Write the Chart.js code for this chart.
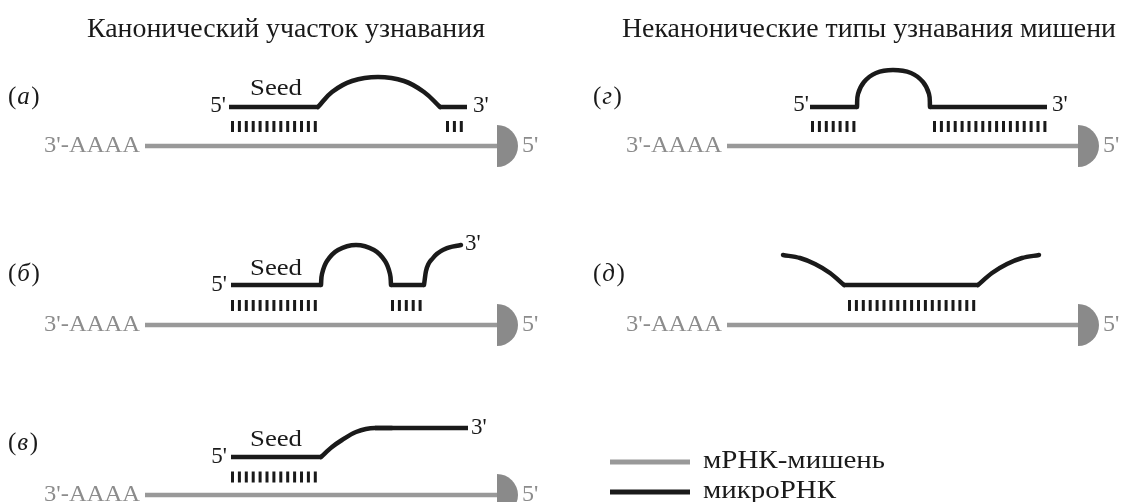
<!DOCTYPE html>
<html>
<head>
<meta charset="utf-8">
<script src="https://cdn.jsdelivr.net/npm/chart.js@4.4.0/dist/chart.umd.min.js"></script>
<style>
html, body { margin: 0; padding: 0; background: #fff; }
#wrap { width: 1121px; height: 502px; position: relative; }
</style>
</head>
<body>
<div id="wrap"><canvas id="diagram"></canvas></div>
<script>
// target mRNA (grey) lines, one per panel: [x, y] start and end
var targetA = [[145, 146], [497, 146]];
var targetB = [[145, 325], [497, 325]];
var targetV = [[145, 495], [497, 495]];
var targetG = [[727, 146], [1078, 146]];
var targetD = [[727, 325], [1078, 325]];

// microRNA (black) strands: straight pieces, loops (arcs) and bends
var straightA = [[[229, 107], [318, 107]], [[440, 107], [467, 107]]];
var arcsA = [[[318, 107], [332, 92], [352, 81], [378, 77], [404, 81], [424, 92], [440, 107]]];
var bendsA = [];

var straightB = [[[231, 285], [321, 285]], [[391, 285], [424, 285]]];
var arcsB = [[[321, 285], [322, 274], [327, 261], [338, 250], [356, 245], [374, 250], [385, 261], [390, 274], [391, 285]]];
var bendsB = [[[424, 285], [426, 271], [433, 258], [445, 249], [461, 245]]];

var straightV = [[[231, 457], [321, 457]], [[375, 428], [468, 428]]];
var arcsV = [];
var bendsV = [[[321, 457], [332, 447], [342, 440], [356, 432], [375, 428], [392, 428]]];

var straightG = [[[810, 107], [857, 107]], [[930, 107], [1047, 107]]];
var arcsG = [[[857, 107], [858, 94], [864, 82], [876, 73], [893, 70], [911, 73], [923, 82], [929, 94], [930, 107]]];
var bendsG = [];

var straightD = [[[844, 285], [978, 285]]];
var arcsD = [];
var bendsD = [
  [[783, 255], [800, 258], [815, 264], [830, 273], [844, 285]],
  [[978, 285], [992, 273], [1007, 264], [1022, 258], [1039, 255]]
];

// base-pairing tick rows
var pairsA = [[[231, 126.5], [319, 126.5]], [[446, 126.5], [464, 126.5]]];
var pairsB = [[[231, 305.5], [320, 305.5]], [[391, 305.5], [424, 305.5]]];
var pairsV = [[[231, 477], [320, 477]]];
var pairsG = [[[811, 126.5], [856, 126.5]], [[933, 126.5], [1049, 126.5]]];
var pairsD = [[[848, 305.5], [976, 305.5]]];

// 5' caps of the mRNA
var caps = [[497, 146], [497, 325], [497, 495], [1078, 146], [1078, 325]];

// legend swatches
var legendTarget = [[610, 462], [690, 462]];
var legendMirna = [[610, 492], [690, 492]];

// texts: [text, x, y, align, font, colour, width]
var SERIF = "'Liberation Serif', 'DejaVu Serif', serif";
var BLACK = '#1a1a1a';
var GREY = '#8c8c8c';
var texts = [
  ['Канонический участок узнавания', 286, 30, 'center', '27px ' + SERIF, BLACK, 398],
  ['Неканонические типы узнавания мишени', 869, 30, 'center', '27px ' + SERIF, BLACK, 494],

  ["3'-AAAA", 140, 146, 'right', '24px ' + SERIF, GREY, 96],
  ["3'-AAAA", 140, 325, 'right', '24px ' + SERIF, GREY, 96],
  ["3'-AAAA", 140, 495, 'right', '24px ' + SERIF, GREY, 96],
  ["3'-AAAA", 722, 146, 'right', '24px ' + SERIF, GREY, 96],
  ["3'-AAAA", 722, 325, 'right', '24px ' + SERIF, GREY, 96],
  ["5'", 522, 146, 'left', '24px ' + SERIF, GREY],
  ["5'", 522, 325, 'left', '24px ' + SERIF, GREY],
  ["5'", 522, 495, 'left', '24px ' + SERIF, GREY],
  ["5'", 1103, 146, 'left', '24px ' + SERIF, GREY],
  ["5'", 1103, 325, 'left', '24px ' + SERIF, GREY],

  ["5'", 226, 106, 'right', '23px ' + SERIF, BLACK],
  ["3'", 473, 106, 'left', '23px ' + SERIF, BLACK],
  ['Seed', 276, 89, 'center', '23px ' + SERIF, BLACK, 52],
  ["5'", 227, 285, 'right', '23px ' + SERIF, BLACK],
  ["3'", 465, 244, 'left', '23px ' + SERIF, BLACK],
  ['Seed', 276, 269, 'center', '23px ' + SERIF, BLACK, 52],
  ["5'", 227, 457, 'right', '23px ' + SERIF, BLACK],
  ["3'", 471, 428, 'left', '23px ' + SERIF, BLACK],
  ['Seed', 276, 440, 'center', '23px ' + SERIF, BLACK, 52],
  ["5'", 809, 105, 'right', '23px ' + SERIF, BLACK],
  ["3'", 1052, 105, 'left', '23px ' + SERIF, BLACK],

  ['мРНК-мишень', 703, 461, 'left', '25px ' + SERIF, BLACK, 182],
  ['микроРНК', 703, 491, 'left', '25px ' + SERIF, BLACK, 133]
];

// panel letters: [letter, x, y]
var panelLabels = [['а', 8, 97], ['б', 8, 274], ['в', 8, 443], ['г', 593, 97], ['д', 593, 274]];

function pts(arr) {
  return arr.map(function (p) { return { x: p[0], y: p[1] }; });
}

// half-disc image used as the point style for the 5' caps
var capImg = document.createElement('canvas');
capImg.width = 44;
capImg.height = 44;
var cc = capImg.getContext('2d');
cc.fillStyle = '#8a8a8a';
cc.beginPath();
cc.moveTo(22, 1);
cc.arc(22, 22, 21, -Math.PI / 2, Math.PI / 2);
cc.closePath();
cc.fill();

var datasets = [];

[pairsA, pairsB, pairsV, pairsG, pairsD].forEach(function (group) {
  group.forEach(function (seg) {
    datasets.push({
      data: pts(seg), borderColor: BLACK, borderWidth: 11, borderDash: [3, 3.9],
      borderCapStyle: 'butt', pointRadius: 0, tension: 0
    });
  });
});

[straightA, straightB, straightV, straightG, straightD].forEach(function (group) {
  group.forEach(function (seg) {
    datasets.push({
      data: pts(seg), borderColor: BLACK, borderWidth: 4.5,
      borderCapStyle: 'butt', pointRadius: 0, tension: 0
    });
  });
});

[arcsA, arcsB, arcsV, arcsG, arcsD].forEach(function (group) {
  group.forEach(function (seg) {
    datasets.push({
      data: pts(seg), borderColor: BLACK, borderWidth: 4.5,
      borderCapStyle: 'round', pointRadius: 0, tension: 0.4
    });
  });
});

[bendsA, bendsB, bendsV, bendsG, bendsD].forEach(function (group) {
  group.forEach(function (seg) {
    datasets.push({
      data: pts(seg), borderColor: BLACK, borderWidth: 4.5,
      borderCapStyle: 'round', pointRadius: 0, cubicInterpolationMode: 'monotone'
    });
  });
});

[targetA, targetB, targetV, targetG, targetD].forEach(function (seg) {
  datasets.push({
    data: pts(seg), borderColor: '#999999', borderWidth: 4.5,
    borderCapStyle: 'butt', pointRadius: 0, tension: 0
  });
});

datasets.push({
  data: pts(caps), showLine: false, pointStyle: capImg, pointRadius: 21
});

datasets.push({ data: pts(legendTarget), borderColor: '#999999', borderWidth: 5, pointRadius: 0 });
datasets.push({ data: pts(legendMirna), borderColor: BLACK, borderWidth: 5, pointRadius: 0 });

var textPlugin = {
  id: 'diagramText',
  afterDatasetsDraw: function (chart) {
    var ctx = chart.ctx;
    var sx = chart.scales.x, sy = chart.scales.y;
    ctx.save();
    ctx.textBaseline = 'middle';
    texts.forEach(function (t) {
      var x = sx.getPixelForValue(t[1]);
      var y = sy.getPixelForValue(t[2]);
      ctx.font = t[4];
      ctx.fillStyle = t[5];
      ctx.textAlign = t[3];
      var k = t[6] ? t[6] / ctx.measureText(t[0]).width : 1;
      ctx.save();
      ctx.translate(x, y);
      ctx.scale(k, 1);
      ctx.fillText(t[0], 0, 0);
      ctx.restore();
    });
    ctx.textAlign = 'left';
    ctx.fillStyle = BLACK;
    panelLabels.forEach(function (l) {
      var x = sx.getPixelForValue(l[1]);
      var y = sy.getPixelForValue(l[2]);
      ctx.font = '25px ' + SERIF;
      ctx.fillText('(', x, y);
      x += ctx.measureText('(').width + 1;
      ctx.font = 'italic 25px ' + SERIF;
      ctx.fillText(l[0], x, y);
      x += ctx.measureText(l[0]).width + 1.5;
      ctx.font = '25px ' + SERIF;
      ctx.fillText(')', x, y);
    });
    ctx.restore();
  }
};

var chart = new Chart(document.getElementById('diagram').getContext('2d'), {
  type: 'line',
  data: { datasets: datasets },
  options: {
    responsive: true,
    maintainAspectRatio: false,
    animation: false,
    events: [],
    layout: { autoPadding: false, padding: 0 },
    plugins: { legend: { display: false }, tooltip: { enabled: false } },
    scales: {
      x: { type: 'linear', min: 0, max: 1121, display: false },
      y: { type: 'linear', min: 0, max: 502, reverse: true, display: false }
    }
  },
  plugins: [textPlugin]
});
</script>
</body>
</html>
